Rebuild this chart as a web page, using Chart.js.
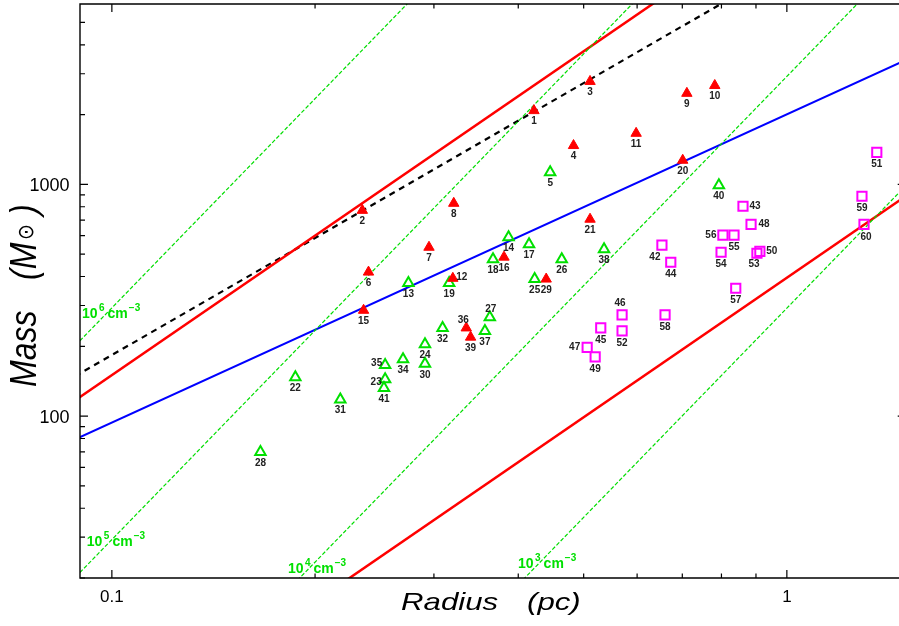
<!DOCTYPE html>
<html>
<head>
<meta charset="utf-8">
<script src="https://cdn.jsdelivr.net/npm/chart.js"></script>
<style>
  html, body { margin: 0; padding: 0; background: #fff; overflow: hidden; }
</style>
</head>
<body>
<canvas id="chart" width="899" height="626"></canvas>
<script>
// clumps: id, radius (pc), mass (Msun)
const redIds = [1, 2, 3, 4, 6, 7, 8, 9, 10, 11, 12, 15, 16, 20, 21, 29, 36, 39];
const redR = [0.422, 0.235, 0.511, 0.483, 0.240, 0.295, 0.321, 0.711, 0.782, 0.598, 0.320, 0.236, 0.381, 0.701, 0.511, 0.440, 0.335, 0.340];
const redM = [2080, 772, 2780, 1470, 418, 535, 828, 2470, 2670, 1660, 393, 286, 485, 1270, 707, 390, 240, 219];

const greenIds = [5, 13, 14, 17, 18, 19, 22, 23, 24, 25, 26, 27, 28, 30, 31, 32, 34, 35, 37, 38, 40, 41];
const greenR = [0.446, 0.275, 0.387, 0.415, 0.367, 0.316, 0.187, 0.254, 0.291, 0.423, 0.464, 0.363, 0.166, 0.291, 0.218, 0.309, 0.270, 0.254, 0.357, 0.536, 0.793, 0.253];
const greenM = [1127, 375, 591, 551, 475, 375, 147, 144, 204, 390, 475, 267, 70, 168, 118, 240, 176, 166, 233, 525, 990, 132];

const pinkIds = [42, 43, 44, 45, 46, 47, 48, 49, 50, 51, 52, 53, 54, 55, 56, 57, 58, 59, 60];
const pinkR = [0.653, 0.861, 0.673, 0.530, 0.570, 0.506, 0.885, 0.520, 0.912, 1.359, 0.570, 0.903, 0.799, 0.835, 0.804, 0.840, 0.660, 1.292, 1.301];
const pinkM = [546, 804, 461, 240, 273, 198, 672, 180, 514, 1373, 233, 504, 509, 603, 603, 356, 273, 888, 672];

// straight reference lines, end points (radius, mass)
const lineR = [0.08, 1.6];
const dens1e6 = [150, 1196000];
const dens1e5 = [15, 119600];
const dens1e4 = [1.5, 11960];
const dens1e3 = [0.15, 1196];
const redUpper = [96, 38400];
const redLower = [2.53, 1011];
const blueLine = [69.7, 3748];
const blackR = [0.08, 1.0];
const blackLine = [126, 8760];

// axis ticks
const xMajor = [0.1, 1];
const xTickLabels = ['0.1', '1'];
const xMinor = [0.2, 0.3, 0.4, 0.5, 0.6, 0.7, 0.8, 0.9];
const yMajor = [100, 1000];
const yTickLabels = ['100', '1000'];
const yMinor = [20, 30, 40, 50, 60, 70, 80, 90, 200, 300, 400, 500, 600, 700, 800, 900, 2000, 3000, 4000, 5000];
const xFrameRight = 1.5; // right frame sits just outside the picture

// density line labels: exponent, anchor (radius, mass)
const densExp = ['6', '5', '4', '3'];
const densLabelR = [0.0903, 0.0918, 0.1823, 0.3996];
const densLabelM = [264.5, 27.4, 21.05, 22.1];

// label placement exceptions [dx, dy] in px
const labelOffset = {
  12: [9, -1], 23: [-9, 3], 35: [-8.5, -2], 27: [1, -8], 36: [-3, -8],
  46: [-2, -12], 47: [-12.5, 0], 43: [12, 0], 48: [13, 0], 50: [12, 0],
  56: [-12, 0], 42: [-7, 12], 53: [-3, 11], 60: [2, 13]
};

const GREEN = '#00e000';
const LINE_GREEN = '#00dd00';
const FONT = '"Liberation Sans", Arial, Helvetica, sans-serif';

const pts = (xs, ys) => xs.map((x, i) => ({ x: x, y: ys[i] }));

function refLine(xs, ys, color, width, dash) {
  return {
    data: pts(xs, ys), showLine: true, pointRadius: 0, borderColor: color,
    borderWidth: width, borderDash: dash || [], fill: false, order: 1
  };
}

const numberLabels = {
  id: 'numberLabels',
  afterDatasetsDraw(chart) {
    const ctx = chart.ctx;
    ctx.save();
    ctx.font = 'bold 10px ' + FONT;
    ctx.fillStyle = '#222';
    ctx.textAlign = 'center';
    ctx.textBaseline = 'middle';
    chart.data.datasets.forEach((ds, i) => {
      if (!ds.ids) return;
      chart.getDatasetMeta(i).data.forEach((p, j) => {
        const id = ds.ids[j];
        const off = labelOffset[id] || [0, ds.labelDy];
        ctx.fillText(String(id), p.x + off[0], p.y + off[1]);
      });
    });
    ctx.restore();
  }
};

const frame = {
  id: 'frame',
  afterDraw(chart) {
    const { ctx, chartArea: a, scales: { x, y } } = chart;
    const right = x.getPixelForValue(xFrameRight);
    ctx.save();
    ctx.strokeStyle = '#000';
    ctx.lineWidth = 1.4;
    ctx.beginPath();
    ctx.moveTo(right, a.top); ctx.lineTo(a.left, a.top);
    ctx.lineTo(a.left, a.bottom); ctx.lineTo(right, a.bottom);
    ctx.stroke();

    ctx.lineWidth = 1.2;
    ctx.beginPath();
    const xt = (v, len) => {
      const px = x.getPixelForValue(v);
      ctx.moveTo(px, a.bottom); ctx.lineTo(px, a.bottom - len);
      ctx.moveTo(px, a.top); ctx.lineTo(px, a.top + len);
    };
    const yt = (v, len) => {
      const py = y.getPixelForValue(v);
      ctx.moveTo(a.left, py); ctx.lineTo(a.left + len, py);
      ctx.moveTo(right, py); ctx.lineTo(right - len, py);
    };
    xMajor.forEach(v => xt(v, 8));
    xMinor.forEach(v => xt(v, 4.5));
    yMajor.forEach(v => yt(v, 8));
    yMinor.forEach(v => yt(v, 5));
    ctx.stroke();

    // tick labels
    ctx.fillStyle = '#000';
    ctx.font = '17px ' + FONT;
    ctx.textAlign = 'center';
    ctx.textBaseline = 'alphabetic';
    xMajor.forEach((v, i) => ctx.fillText(xTickLabels[i], x.getPixelForValue(v), 602));
    ctx.font = '18px ' + FONT;
    ctx.textAlign = 'right';
    yMajor.forEach((v, i) => ctx.fillText(yTickLabels[i], 69.5, y.getPixelForValue(v) + 6.5));

    // density labels
    ctx.fillStyle = GREEN;
    ctx.textAlign = 'left';
    densExp.forEach((e, i) => {
      let px = x.getPixelForValue(densLabelR[i]);
      const py = y.getPixelForValue(densLabelM[i]);
      ctx.font = 'bold 14px ' + FONT;
      ctx.fillText('10', px, py);
      px += ctx.measureText('10').width + 1.5;
      ctx.font = 'bold 10px ' + FONT;
      ctx.fillText(e, px, py - 7);
      px += ctx.measureText(e).width + 3;
      ctx.font = 'bold 14px ' + FONT;
      ctx.fillText('cm', px, py);
      px += ctx.measureText('cm').width + 1;
      ctx.font = 'bold 10px ' + FONT;
      ctx.fillText('\u22123', px, py - 7);
    });

    // axis titles
    ctx.fillStyle = '#000';
    ctx.save();
    ctx.font = 'italic 24px ' + FONT;
    ctx.translate(401, 610);
    ctx.scale(1.3, 1);
    ctx.fillText('Radius', 0, 0);
    ctx.fillText('(pc)', (527 - 401) / 1.3, 0);
    ctx.restore();

    ctx.save();
    ctx.translate(36, 387);
    ctx.rotate(-Math.PI / 2);
    ctx.scale(1, 1.16);
    ctx.font = 'italic 32px ' + FONT;
    ctx.fillText('Mass', 0, 0);
    ctx.fillText('(M', 107, 0);
    ctx.font = '19px "DejaVu Sans", sans-serif';
    ctx.fillText('\u2299', 147, -3);
    ctx.font = 'italic 32px ' + FONT;
    ctx.fillText(')', 172, 0);
    ctx.restore();

    ctx.restore();
  }
};

new Chart(document.getElementById('chart'), {
  type: 'scatter',
  data: {
    datasets: [
      {
        ids: redIds, data: pts(redR, redM), pointStyle: 'triangle', pointRadius: 6,
        backgroundColor: '#ff0000', borderColor: '#ff0000', borderWidth: 1, labelDy: 11, order: 0
      },
      {
        ids: greenIds, data: pts(greenR, greenM), pointStyle: 'triangle', pointRadius: 6,
        backgroundColor: 'rgba(0,0,0,0)', borderColor: GREEN, borderWidth: 2, labelDy: 11, order: 0
      },
      {
        ids: pinkIds, data: pts(pinkR, pinkM), pointStyle: 'rect', pointRadius: 6.5,
        backgroundColor: 'rgba(0,0,0,0)', borderColor: '#ff00ff', borderWidth: 2, labelDy: 12, order: 0
      },
      refLine(lineR, dens1e6, LINE_GREEN, 1.2, [4, 2]),
      refLine(lineR, dens1e5, LINE_GREEN, 1.2, [4, 2]),
      refLine(lineR, dens1e4, LINE_GREEN, 1.2, [4, 2]),
      refLine(lineR, dens1e3, LINE_GREEN, 1.2, [4, 2]),
      refLine(lineR, redUpper, '#ff0000', 2.5),
      refLine(lineR, redLower, '#ff0000', 2.5),
      refLine(lineR, blueLine, '#0000ff', 2),
      refLine(blackR, blackLine, '#000000', 2.2, [6, 5])
    ]
  },
  options: {
    responsive: false,
    animation: false,
    devicePixelRatio: 1,
    events: [],
    layout: { autoPadding: false, padding: { left: 80, top: 4, right: 0, bottom: 48 } },
    plugins: { legend: { display: false }, tooltip: { enabled: false } },
    scales: {
      x: { type: 'logarithmic', min: 0.0897, max: 1.466, display: false },
      y: { type: 'logarithmic', min: 20, max: 6000, display: false }
    }
  },
  plugins: [frame, numberLabels]
});
</script>
</body>
</html>
